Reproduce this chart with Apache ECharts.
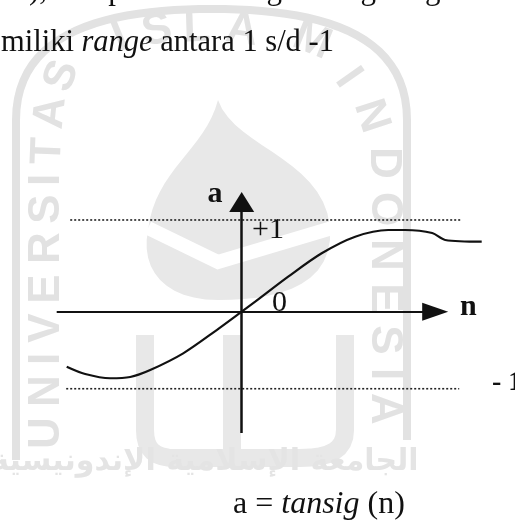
<!DOCTYPE html>
<html>
<head>
<meta charset="utf-8">
<script src="https://cdn.jsdelivr.net/npm/echarts@6/dist/echarts.min.js"></script>
<style>
  html, body { margin: 0; padding: 0; background: #fff; }
  #main { width: 515px; height: 521px; }
</style>
</head>
<body>
<div id="main"></div>
<script>
// curve a = tansig(n) (n in drawing units)
const curveN = [-3.5, -3.13, -2.63, -2.23, -1.83, -1.17, -0.5, 0, 0.27, 0.93, 1.6, 2.27, 2.93, 3.27, 3.81, 4.07, 4.8];
const curveA = [-0.6, -0.68, -0.726, -0.712, -0.636, -0.454, -0.2, 0, 0.109, 0.382, 0.637, 0.818, 0.891, 0.891, 0.858, 0.782, 0.763];

// dotted limit lines: [nStart, nEnd, level]
const upperLimit = [-3.43, 4.4, 1];
const lowerLimit = [-3.51, 4.35, -0.84];

// drawn axes (arrow ends): n from -3.7 to 4.13, a from -1.323 to 1.305
const nAxis = [-3.7, 4.13];
const aAxis = [-1.323, 1.305];

// plot window
const nRange = [-4.034, 5.066];
const aRange = [-1.41, 1.436];

const axisNames = ['n', 'a'];
const levelLabels = ['+1', '0', '- 1'];

const serif = '"Liberation Serif", "Times New Roman", serif';
const ink = '#111';
const wm = '#e2e2e2';

// watermark letters (char, x, y, rotation in degrees)
const wmLetters = [
  ['U', 47, 433, 90], ['N', 47, 391, 90], ['I', 47, 359, 90], ['V', 47, 328, 90],
  ['E', 47, 289, 90], ['R', 47, 248, 90], ['S', 47, 209, 90], ['I', 47, 180, 90],
  ['T', 48, 151, 88], ['A', 51, 113, 84], ['S', 62, 76, 70],
  ['I', 120, 38, 22], ['S', 157, 31, 12], ['L', 197, 29, 2], ['A', 242, 31, -8], ['M', 312, 41, -22],
  ['I', 348, 78, -55], ['N', 371, 116, -72], ['D', 383, 163, -90], ['O', 384, 209, -90],
  ['N', 384, 255, -90], ['E', 384, 298, -90], ['S', 384, 340, -90], ['I', 384, 374, -90], ['A', 384, 409, -90]
];

// sample a cubic bezier into points
function cubic(p0, p1, p2, p3, steps) {
  const pts = [];
  for (let i = 0; i <= steps; i++) {
    const t = i / steps, u = 1 - t;
    pts.push([
      u * u * u * p0[0] + 3 * u * u * t * p1[0] + 3 * u * t * t * p2[0] + t * t * t * p3[0],
      u * u * u * p0[1] + 3 * u * u * t * p1[1] + 3 * u * t * t * p2[1] + t * t * t * p3[1]
    ]);
  }
  return pts;
}

const myChart = echarts.init(document.getElementById('main'));

const shieldPts = [[16, 460]]
  .concat(cubic([16, 120], [16, 30], [110, 9], [212, 9], 24))
  .concat(cubic([212, 9], [314, 9], [407, 30], [407, 120], 24))
  .concat([[407, 440]]);

const flamePts = cubic([218, 100], [235, 150], [335, 160], [330, 240], 16)
  .concat(cubic([330, 240], [325, 290], [270, 300], [218, 300], 12))
  .concat(cubic([218, 300], [165, 300], [140, 270], [148, 230], 12))
  .concat(cubic([148, 230], [155, 170], [205, 150], [218, 100], 16));

const cupPts = [[145, 335], [145, 430]]
  .concat(cubic([145, 430], [145, 450], [155, 458], [175, 458], 8))
  .concat(cubic([300, 458], [330, 458], [345, 450], [345, 430], 8))
  .concat([[345, 335]]);

const watermark = [
  {
    type: 'polyline', z: -10, silent: true,
    shape: { points: shieldPts },
    style: { fill: 'none', stroke: wm, lineWidth: 8 }
  },
  {
    type: 'polygon', z: -10, silent: true,
    shape: { points: flamePts },
    style: { fill: '#e8e8e8' }
  },
  {
    type: 'polyline', z: -9, silent: true,
    shape: { points: [[148, 228], [218, 262], [332, 228]] },
    style: { fill: 'none', stroke: '#fff', lineWidth: 14 }
  },
  {
    type: 'polyline', z: -10, silent: true,
    shape: { points: cupPts },
    style: { fill: 'none', stroke: '#e8e8e8', lineWidth: 18 }
  },
  {
    type: 'line', z: -10, silent: true,
    shape: { x1: 232, y1: 335, x2: 232, y2: 458 },
    style: { stroke: '#e8e8e8', lineWidth: 18 }
  },
  {
    type: 'text', z: -10, silent: true, x: 205, y: 462,
    style: { text: 'الجامعة الإسلامية الإندونيسية', font: 'bold 30px "DejaVu Sans"', fill: '#e4e4e4', align: 'center', verticalAlign: 'middle' }
  }
].concat(wmLetters.map(function (l) {
  return {
    type: 'text', z: -10, silent: true, x: l[1], y: l[2], rotation: l[3] * Math.PI / 180,
    style: { text: l[0], font: 'bold 44px "Liberation Sans", Arial, sans-serif', fill: wm, align: 'center', verticalAlign: 'middle' }
  };
}));

function label(text, x, y, font, align) {
  return {
    type: 'text', z: 100, silent: true, x: x, y: y,
    style: { text: text, font: font, fill: ink, align: align || 'left', verticalAlign: 'middle' }
  };
}

const labels = [
  // cut-off previous line and the sentence end
  label('), hampir sama dengan fungsi sigmoid biner, hanya saja', 29, -9.5, '31px ' + serif),
  {
    type: 'text', z: 100, silent: true, x: 1, y: 43,
    style: {
      text: '{r|miliki }{i|range}{r| antara 1 s/d -1}', fill: ink, verticalAlign: 'middle',
      rich: {
        r: { fontSize: 30.5, fontFamily: serif, fill: ink },
        i: { fontSize: 30.5, fontFamily: serif, fontStyle: 'italic', fill: ink }
      }
    }
  },
  {
    type: 'text', z: 100, silent: true, x: 233, y: 505,
    style: {
      text: '{r|a = }{i|tansig}{r| (n)}', fill: ink, verticalAlign: 'middle',
      rich: {
        r: { fontSize: 32, fontFamily: serif, fill: ink },
        i: { fontSize: 32, fontFamily: serif, fontStyle: 'italic', fill: ink }
      }
    }
  },
  label(axisNames[1], 215, 194, 'bold 30px ' + serif, 'center'),
  label(axisNames[0], 460, 307, 'bold 30px ' + serif),
  label(levelLabels[0], 252, 230.5, '30px ' + serif),
  label(levelLabels[1], 272, 303, '30px ' + serif),
  label(levelLabels[2], 492, 383, 'bold 28px ' + serif)
];

// axis arrows: markLine ends sit half an arrow length short of the tip
const xArrow = [18, 26];
const yArrow = [25, 20];
const axisLines = [
  [
    { coord: [nAxis[0], 0], symbol: 'none' },
    { coord: [nAxis[1] - xArrow[1] / 2 / 50, 0], symbol: 'triangle', symbolSize: xArrow }
  ],
  [
    { coord: [0, aAxis[0]], symbol: 'none', lineStyle: { width: 2.5 } },
    { coord: [0, aAxis[1] - yArrow[1] / 2 / 91.7], symbol: 'triangle', symbolSize: yArrow, lineStyle: { width: 2.5 } }
  ]
];

const option = {
  animation: false,
  grid: { left: 40, right: 20, top: 180, bottom: 80 },
  xAxis: {
    type: 'value', min: nRange[0], max: nRange[1], show: false
  },
  yAxis: {
    type: 'value', min: aRange[0], max: aRange[1], show: false
  },
  series: [
    {
      type: 'line', silent: true, symbol: 'none',
      data: [[upperLimit[0], upperLimit[2]], [upperLimit[1], upperLimit[2]]],
      lineStyle: { color: '#222', width: 1.6, type: [2, 2] }
    },
    {
      type: 'line', silent: true, symbol: 'none',
      data: [[lowerLimit[0], lowerLimit[2]], [lowerLimit[1], lowerLimit[2]]],
      lineStyle: { color: '#222', width: 1.6, type: [2, 2] }
    },
    {
      name: 'tansig', type: 'line', silent: true, symbol: 'none', smooth: 0.3,
      data: curveN.map(function (n, i) { return [n, curveA[i]]; }),
      lineStyle: { color: ink, width: 2.2 },
      markLine: {
        silent: true,
        animation: false,
        label: { show: false },
        lineStyle: { color: ink, width: 2, type: 'solid' },
        emphasis: { disabled: true },
        data: axisLines
      }
    }
  ],
  graphic: { elements: watermark.concat(labels) }
};

myChart.setOption(option);
</script>
</body>
</html>
